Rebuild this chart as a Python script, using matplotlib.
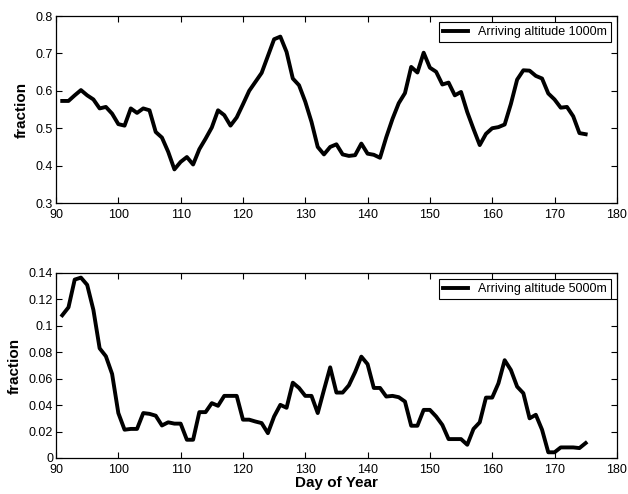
import numpy as np
import matplotlib
matplotlib.use("Agg")
import matplotlib.pyplot as plt

plt.rcParams['font.family'] = ['Liberation Sans', 'DejaVu Sans']

days = np.arange(91, 176)

frac_1000 = [
    0.573, 0.573, 0.588, 0.602, 0.588, 0.577, 0.553, 0.557, 0.539, 0.511,
    0.507, 0.553, 0.541, 0.553, 0.548, 0.490, 0.475, 0.437, 0.390, 0.410,
    0.423, 0.403, 0.444, 0.472, 0.502, 0.548, 0.535, 0.507, 0.529, 0.564,
    0.600, 0.624, 0.648, 0.693, 0.738, 0.745, 0.704, 0.633, 0.615, 0.571,
    0.517, 0.450, 0.430, 0.450, 0.457, 0.430, 0.426, 0.428, 0.459, 0.432,
    0.429, 0.421, 0.476, 0.525, 0.567, 0.594, 0.664, 0.649, 0.702, 0.662,
    0.651, 0.617, 0.622, 0.588, 0.597, 0.543, 0.498, 0.455, 0.485, 0.500,
    0.503, 0.510, 0.565, 0.630, 0.655, 0.654, 0.640, 0.633, 0.593, 0.577,
    0.555, 0.557, 0.532, 0.487, 0.484,
]

frac_5000 = [
    0.108, 0.114, 0.135, 0.1365, 0.131, 0.112, 0.083, 0.077, 0.0636, 0.034,
    0.0214, 0.022, 0.022, 0.034, 0.0334, 0.032, 0.0246, 0.027, 0.026, 0.026,
    0.0138, 0.0138, 0.0347, 0.0347, 0.0415, 0.0395, 0.047, 0.047, 0.047, 0.029,
    0.029, 0.0276, 0.0264, 0.0188, 0.0314, 0.0402, 0.038, 0.057, 0.053, 0.047,
    0.047, 0.034, 0.0515, 0.0686, 0.0495, 0.0495, 0.055, 0.065, 0.0767, 0.071,
    0.053, 0.053, 0.0465, 0.047, 0.046, 0.0427, 0.0244, 0.0244, 0.0364, 0.0364,
    0.0314, 0.025, 0.0143, 0.0143, 0.0143, 0.010, 0.022, 0.027, 0.0457, 0.0457,
    0.0565, 0.074, 0.0666, 0.054, 0.049, 0.030, 0.0327, 0.0214, 0.0043, 0.0043,
    0.008, 0.008, 0.008, 0.0075, 0.0113,
]

x_ticks = [90, 100, 110, 120, 130, 140, 150, 160, 170, 180]
y_ticks_top = [0.3, 0.4, 0.5, 0.6, 0.7, 0.8]
y_ticks_bot = [0, 0.02, 0.04, 0.06, 0.08, 0.1, 0.12, 0.14]
y_labels_bot = ['0', '0.02', '0.04', '0.06', '0.08', '0.1', '0.12', '0.14']


def style_axes(ax):
    ax.tick_params(direction='in', top=True, right=True, length=4,
                   width=0.8, labelsize=9)
    ax.tick_params(axis='y', pad=2)
    ax.tick_params(axis='x', pad=4.5)
    for sp in ax.spines.values():
        sp.set_linewidth(0.9)
    ax.set_xlim(90, 180)
    ax.set_xticks(x_ticks)
    ax.set_ylabel('fraction', fontsize=11, fontweight='bold', labelpad=5)


fig = plt.figure(figsize=(6.28, 4.94), dpi=100)
ax1 = fig.add_axes([0.0892, 0.589, 0.893, 0.3785])
ax2 = fig.add_axes([0.0892, 0.0729, 0.893, 0.3745])

ax1.plot(days, frac_1000, color='black', lw=2.8, label='Arriving altitude 1000m')
style_axes(ax1)
ax1.set_ylim(0.3, 0.8)
ax1.set_yticks(y_ticks_top)
ax1.set_yticklabels([f'{v:.1f}' for v in y_ticks_top])

ax2.plot(days, frac_5000, color='black', lw=2.8, label='Arriving altitude 5000m')
style_axes(ax2)
ax2.set_ylim(0, 0.14)
ax2.set_yticks(y_ticks_bot)
ax2.set_yticklabels(y_labels_bot)
ax2.set_xlabel('Day of Year', fontsize=11, fontweight='bold', labelpad=0)

for ax in (ax1, ax2):
    leg = ax.legend(loc='upper right', fontsize=9, fancybox=False, framealpha=1,
                    edgecolor='black', borderpad=0.3, handlelength=2.0,
                    borderaxespad=0.5, handletextpad=0.8)
    leg.get_frame().set_linewidth(0.8)

fig.savefig('out.png', dpi=100)
